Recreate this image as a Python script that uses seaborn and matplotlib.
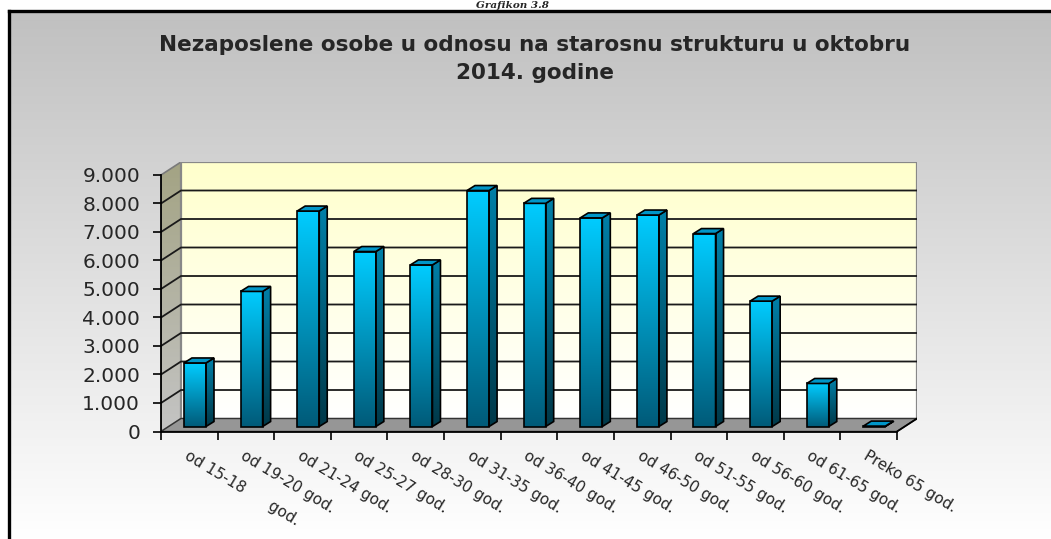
import numpy as np
import matplotlib.pyplot as plt
import seaborn as sns
from matplotlib.colors import LinearSegmentedColormap
from matplotlib.patches import Polygon
from matplotlib.ticker import FuncFormatter

# data
categories = [
    "od 15-18      god.", "od 19-20 god.", "od 21-24 god.", "od 25-27 god.",
    "od 28-30 god.", "od 31-35 god.", "od 36-40 god.", "od 41-45 god.",
    "od 46-50 god.", "od 51-55 god.", "od 56-60 god.", "od 61-65 god.",
    "Preko 65 god.",
]
values = [2230, 4740, 7560, 6140, 5670, 8280, 7830, 7320, 7420, 6770, 4400, 1510, 15]
y_ticks = [0, 1000, 2000, 3000, 4000, 5000, 6000, 7000, 8000, 9000]

title = "Nezaposlene osobe u odnosu na starosnu strukturu u oktobru\n2014. godine"
caption = "Grafikon 3.8"

sns.set_style("white")
plt.rcParams["font.family"] = ["DejaVu Sans"]

fig = plt.figure(figsize=(10.51, 5.39), dpi=100)

# background panel with grey -> white gradient and black frame
bg = fig.add_axes([0, 0, 1, 1], zorder=0)
bg.set_xlim(0, 1051)
bg.set_ylim(539, 0)
bg.axis("off")
ramp = np.linspace(0, 1, 256).reshape(-1, 1)
bg.imshow(ramp, extent=[8, 1051, 539, 11],
          cmap=LinearSegmentedColormap.from_list("bg", ["#c0c0c0", "#ffffff"]),
          aspect="auto")
bg.plot([9, 9], [539, 11], color="black", lw=2.4, solid_capstyle="projecting")
bg.plot([9, 1051], [11, 11], color="black", lw=2.4, solid_capstyle="projecting")
bg.set_xlim(0, 1051)
bg.set_ylim(539, 0)

fig.text(0.488, 1 - 8.5 / 539, caption, ha="center", va="baseline",
         fontsize=7.5, fontweight="bold", fontstyle="italic", family="DejaVu Serif")
fig.text(535 / 1051, 1 - 59 / 539, title, ha="center", va="center",
         fontsize=15.5, fontweight="bold", linespacing=1.45)

# 3d look: depth of the walls and of the bars (data units)
X0, X1, YMAX = -0.5, 12.5, 9000
DX, DY = 0.353, 456
BX, BY = 0.10, 175
SX, SY = 0.141, 175

ax = fig.add_axes([161 / 1051, 107.5 / 539, 756 / 1051, 269.5 / 539], zorder=1)
ax.patch.set_alpha(0)


def grad_fill(poly, top, bottom, z):
    ax.add_patch(poly)
    xs, ys = poly.get_xy().T
    cm = LinearSegmentedColormap.from_list("g", [bottom, top])
    im = ax.imshow(ramp, extent=[xs.min(), xs.max(), ys.min(), ys.max()],
                   origin="lower", cmap=cm, aspect="auto", zorder=z,
                   interpolation="bilinear")
    im.set_clip_path(poly)
    return im


sns.barplot(x=categories, y=values, width=0.39, color="#00a0d0",
            errorbar=None, ax=ax, zorder=4)
bars = list(ax.patches)

# walls and floor
left_wall = Polygon([(X0, 0), (X0 + DX, DY), (X0 + DX, YMAX + DY), (X0, YMAX)],
                    closed=True, facecolor="none", edgecolor="#7a7a7a", lw=1.2, zorder=1.5)
grad_fill(left_wall, "#a3a383", "#c4c4c4", 1)
back_wall = Polygon([(X0 + DX, DY), (X1 + DX, DY), (X1 + DX, YMAX + DY), (X0 + DX, YMAX + DY)],
                    closed=True, facecolor="none", edgecolor="#888888", lw=1.6, zorder=1.5)
grad_fill(back_wall, "#ffffcc", "#ffffff", 1)
for v in y_ticks[1:-1]:
    ax.plot([X0, X0 + DX, X1 + DX], [v, v + DY, v + DY], color="#1a1a1a", lw=1.3, zorder=2)
floor = Polygon([(X0, 0), (X1, 0), (X1 + DX, DY), (X0 + DX, DY)], closed=True,
                facecolor="#969696", edgecolor="#333333", lw=1.0, zorder=2.5)
ax.add_patch(floor)
ax.plot([X1, X1 + DX], [0, DY], color="black", lw=1.3, zorder=2.6)

# bars: gradient front face, side face and top face
for p in bars:
    x = p.get_x() + BX
    w = p.get_width()
    h = p.get_height()
    p.set_x(x)
    p.set_y(BY)
    p.set_facecolor("none")
    p.set_edgecolor("black")
    p.set_linewidth(1.2)
    p.set_zorder(5)
    front = Polygon([(x, BY), (x + w, BY), (x + w, BY + h), (x, BY + h)], closed=True,
                    facecolor="none", edgecolor="none", zorder=4)
    grad_fill(front, "#00ccff", "#005a78", 4)
    side = Polygon([(x + w, BY), (x + w + SX, BY + SY), (x + w + SX, BY + h + SY), (x + w, BY + h)],
                   closed=True, facecolor="none", edgecolor="black", lw=1.2, zorder=5)
    grad_fill(side, "#0080a8", "#003848", 4)
    top = Polygon([(x, BY + h), (x + w, BY + h), (x + w + SX, BY + h + SY), (x + SX, BY + h + SY)],
                  closed=True, facecolor="#0096c8", edgecolor="black", lw=1.2, zorder=5)
    ax.add_patch(top)

# axes, ticks and labels
ax.set_xlim(X0, X1 + DX)
ax.set_ylim(0, YMAX + DY)
for s in ["top", "right"]:
    ax.spines[s].set_visible(False)
ax.spines["left"].set_bounds(0, YMAX)
ax.spines["bottom"].set_bounds(X0, X1)
for s in ["left", "bottom"]:
    ax.spines[s].set_color("black")
    ax.spines[s].set_linewidth(1.3)
    ax.spines[s].set_zorder(6)

ax.set_yticks(y_ticks)
ax.yaxis.set_major_formatter(FuncFormatter(lambda v, _: f"{v:,.0f}".replace(",", ".")))
ax.tick_params(axis="y", length=6, width=1.2, color="black", direction="out",
               labelsize=14.5, pad=9, left=True)
ax.set_xticks(range(len(categories)))
ax.set_xticklabels(categories, rotation=-31, ha="left", va="top",
                   rotation_mode="anchor", fontsize=11)
ax.set_xticks(np.arange(X0, X1 + 0.01, 1), minor=True)
ax.tick_params(axis="x", which="major", length=0, pad=12)
ax.tick_params(axis="x", which="minor", length=6, width=1.2, color="black",
               direction="out", bottom=True)
ax.set_xlabel("")
ax.set_ylabel("")

fig.savefig("out.png", dpi=100)
